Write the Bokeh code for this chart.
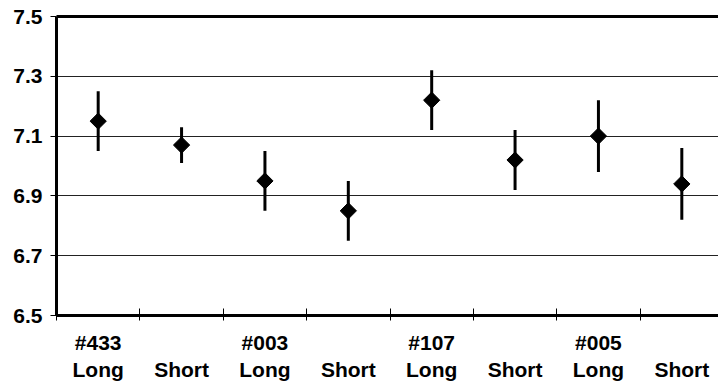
import math
from bokeh.plotting import figure
from bokeh.models import Range1d, FixedTicker, LinearAxis, PrintfTickFormatter
from bokeh.embed import file_html
from bokeh.resources import INLINE

# ---- data ----
groups = ["#433", "", "#003", "", "#107", "", "#005", ""]
lengths = ["Long", "Short", "Long", "Short", "Long", "Short", "Long", "Short"]
means = [7.15, 7.07, 6.95, 6.85, 7.22, 7.02, 7.10, 6.94]
errors = [0.10, 0.06, 0.10, 0.10, 0.10, 0.10, 0.12, 0.12]
y_ticks = [6.5, 6.7, 6.9, 7.1, 7.3, 7.5]

n = len(means)
centers = [i + 0.5 for i in range(n)]
bounds = list(range(n + 1))
lows = [m - e for m, e in zip(means, errors)]
highs = [m + e for m, e in zip(means, errors)]
labels = {c: f"{g}\n{l}" for c, g, l in zip(centers, groups, lengths)}

FONT = "Liberation Sans"

p = figure(width=718, height=384, output_backend="svg", toolbar_location=None,
           x_range=Range1d(0, 7.94), y_range=Range1d(6.5, 7.5),
           min_border_left=56, min_border_right=0, min_border_top=16,
           min_border_bottom=10)
p.outline_line_color = None
p.background_fill_color = "white"
p.border_fill_color = "white"

# x axis
xa = p.xaxis[0]
xa.ticker = FixedTicker(ticks=centers, minor_ticks=bounds)
xa.major_label_overrides = labels
xa.major_tick_in = 0
xa.major_tick_out = 0
xa.minor_tick_in = 7
xa.minor_tick_out = 5
xa.minor_tick_line_width = 1
xa.minor_tick_line_color = "black"
xa.axis_line_width = 3
xa.axis_line_color = "black"
xa.major_label_text_font = FONT
xa.major_label_text_font_style = "bold"
xa.major_label_text_font_size = "21px"
xa.major_label_text_color = "black"
xa.major_label_standoff = 10

# y axis
ya = p.yaxis[0]
ya.ticker = FixedTicker(ticks=y_ticks)
ya.formatter = PrintfTickFormatter(format="%.1f")
ya.major_tick_in = 0
ya.major_tick_out = 6
ya.major_tick_line_color = "black"
ya.minor_tick_in = 0
ya.minor_tick_out = 0
ya.axis_line_width = 3
ya.axis_line_color = "black"
ya.major_label_text_font = FONT
ya.major_label_text_font_style = "bold"
ya.major_label_text_font_size = "21px"
ya.major_label_text_color = "black"
ya.major_label_standoff = 8

# top border line
top = LinearAxis(ticker=FixedTicker(ticks=[]), axis_line_width=3,
                 axis_line_color="black", major_tick_out=0, major_tick_in=0,
                 minor_tick_out=0, minor_tick_in=0, major_label_standoff=0)
p.add_layout(top, "above")

# grid
p.xgrid.visible = False
p.ygrid.ticker = FixedTicker(ticks=y_ticks)
p.ygrid.grid_line_color = "#222222"
p.ygrid.grid_line_width = 1

# error bars and points
p.segment(centers, lows, centers, highs, line_width=3, line_color="black")
p.scatter(centers, means, marker="square", size=11.5, angle=math.pi / 4,
          fill_color="black", line_color="black")

open("out.html", "w").write(file_html(p, INLINE))
